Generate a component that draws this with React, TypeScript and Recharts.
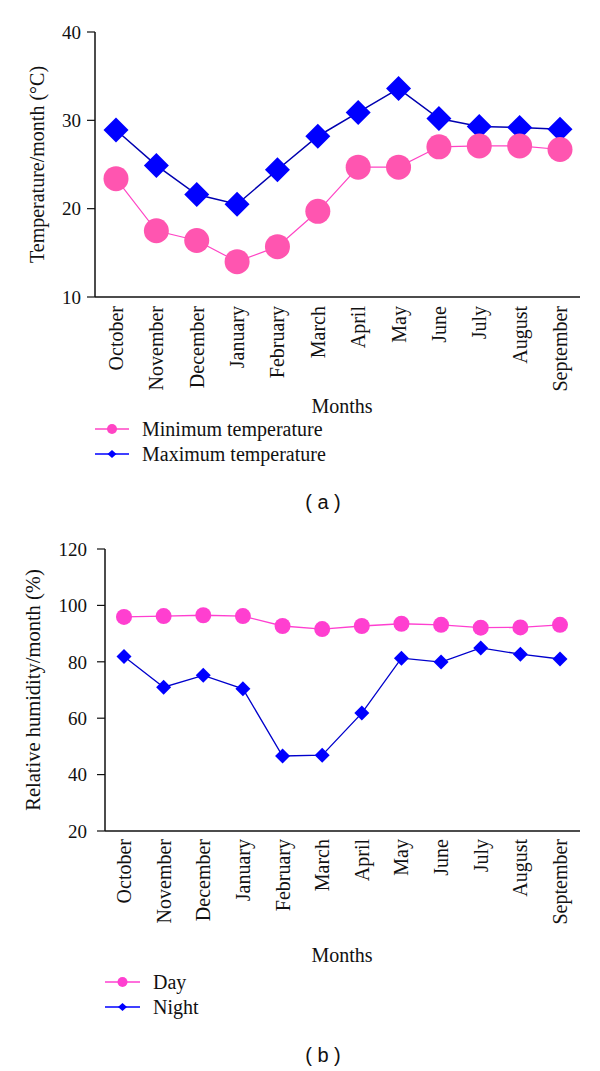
import React from 'react';
import { LineChart, Line, XAxis, YAxis } from 'recharts';

const months = ['October', 'November', 'December', 'January', 'February', 'March', 'April', 'May', 'June', 'July', 'August', 'September'];
const minTemp = [23.4, 17.5, 16.4, 14.0, 15.7, 19.7, 24.7, 24.7, 27.0, 27.1, 27.1, 26.7];
const maxTemp = [28.9, 24.9, 21.6, 20.5, 24.4, 28.2, 30.9, 33.6, 30.2, 29.3, 29.2, 29.0];
const humDay = [95.9, 96.2, 96.5, 96.2, 92.7, 91.6, 92.7, 93.5, 93.1, 92.1, 92.2, 93.1];
const humNight = [81.9, 71.0, 75.2, 70.4, 46.6, 46.9, 61.8, 81.3, 79.9, 84.9, 82.7, 81.0];
const tempTicks = [10, 20, 30, 40];
const humTicks = [20, 40, 60, 80, 100, 120];

const tempData = months.map((m, i) => ({ month: m, min: minTemp[i], max: maxTemp[i] }));
const humData = months.map((m, i) => ({ month: m, day: humDay[i], night: humNight[i] }));

const SERIF = '"Liberation Serif", "Times New Roman", serif';
const SANS = '"Liberation Sans", Arial, sans-serif';
const PINK_A = '#ff55b0';
const PINK_B = '#ff3fd0';
const BLUE = '#0000ff';

const MonthTick = (props: any) => {
  const { x, y, payload } = props;
  return (
    <text
      x={x}
      y={y}
      transform={`rotate(-90, ${x}, ${y})`}
      textAnchor="end"
      dominantBaseline="central"
      fontFamily={SERIF}
      fontSize={20}
      fill="#111"
    >
      {payload.value}
    </text>
  );
};

const circleDot = (r: number, color: string) => (props: any) => {
  const { cx, cy, index } = props;
  if (cx == null || cy == null) return <g key={index} />;
  return <circle key={index} cx={cx} cy={cy} r={r} fill={color} stroke="none" />;
};

const diamondDot = (h: number, color: string) => (props: any) => {
  const { cx, cy, index } = props;
  if (cx == null || cy == null) return <g key={index} />;
  return (
    <path
      key={index}
      d={`M${cx},${cy - h}L${cx + h},${cy}L${cx},${cy + h}L${cx - h},${cy}Z`}
      fill={color}
      stroke="none"
    />
  );
};

const yLabel = (text: string, dx: number, size: number) => (props: any) => {
  const { viewBox } = props;
  const x = viewBox.x + dx;
  const y = viewBox.y + viewBox.height / 2;
  return (
    <text
      x={x}
      y={y}
      transform={`rotate(-90, ${x}, ${y})`}
      textAnchor="middle"
      dominantBaseline="central"
      fontFamily={SERIF}
      fontSize={size}
      fill="#111"
    >
      {text}
    </text>
  );
};

const LegendRow = ({ top, left, lineW, color, marker, label }: any) => (
  <div style={{ position: 'absolute', top: top - 12, left, height: 24, display: 'flex', alignItems: 'center' }}>
    <svg width={lineW} height={24} style={{ display: 'block' }}>
      <line x1={0} y1={12} x2={lineW} y2={12} stroke={color} strokeWidth={1.5} />
      {marker === 'circle' ? (
        <circle cx={lineW / 2} cy={12} r={5} fill={color} />
      ) : (
        <path d={`M${lineW / 2},8L${lineW / 2 + 4.5},12L${lineW / 2},16L${lineW / 2 - 4.5},12Z`} fill={color} />
      )}
    </svg>
    <span style={{ marginLeft: 13, fontFamily: SERIF, fontSize: 20, color: '#111', whiteSpace: 'nowrap' }}>{label}</span>
  </div>
);

const centerText = (text: string, x: number, y: number, font: string, size: number) => (
  <div
    style={{
      position: 'absolute',
      left: x - 100,
      top: y - 14,
      width: 200,
      height: 28,
      lineHeight: '28px',
      textAlign: 'center',
      fontFamily: font,
      fontSize: size,
      color: '#111',
      whiteSpace: 'pre',
    }}
  >
    {text}
  </div>
);

export default function App() {
  return (
    <div style={{ position: 'absolute', left: 0, top: 0, width: 600, height: 1071, background: '#fff', overflow: 'hidden' }}>
      <div style={{ position: 'absolute', left: 0, top: 0 }}>
        <LineChart width={600} height={395} data={tempData} margin={{ top: 32, right: 20, left: 30, bottom: 0 }}>
          <XAxis
            dataKey="month"
            interval={0}
            height={98}
            tick={<MonthTick />}
            tickLine={false}
            tickSize={0}
            tickMargin={9}
            axisLine={{ stroke: '#111', strokeWidth: 1.5 }}
            padding={{ left: 21, right: 20 }}
          />
          <YAxis
            width={65}
            domain={[10, 40]}
            ticks={tempTicks}
            interval={0}
            tickSize={8}
            tickMargin={6}
            tick={{ fontFamily: SERIF, fontSize: 19, fill: '#111' }}
            tickLine={{ stroke: '#111', strokeWidth: 1.2 }}
            axisLine={{ stroke: '#111', strokeWidth: 1.5 }}
            label={yLabel('Temperature/month (°C)', 7, 20)}
          />
          <Line
            dataKey="max"
            stroke="#0000b0"
            strokeWidth={1.5}
            dot={diamondDot(12.5, BLUE)}
            activeDot={false}
            isAnimationActive={false}
          />
          <Line
            dataKey="min"
            stroke="#ff44c4"
            strokeWidth={1.2}
            dot={circleDot(12.5, PINK_A)}
            activeDot={false}
            isAnimationActive={false}
          />
        </LineChart>
      </div>
      {centerText('Months', 342, 406, SERIF, 20)}
      <LegendRow top={429} left={95} lineW={34} color="#ff44c4" marker="circle" label="Minimum temperature" />
      <LegendRow top={454} left={95} lineW={34} color={BLUE} marker="diamond" label="Maximum temperature" />
      {centerText('( a )', 323, 502, SANS, 20)}

      <div style={{ position: 'absolute', left: 0, top: 520 }}>
        <LineChart width={600} height={410} data={humData} margin={{ top: 29, right: 20, left: 30, bottom: 0 }}>
          <XAxis
            dataKey="month"
            interval={0}
            height={99}
            tick={<MonthTick />}
            tickLine={false}
            tickSize={0}
            tickMargin={8}
            axisLine={{ stroke: '#111', strokeWidth: 1.5 }}
            padding={{ left: 19, right: 20 }}
          />
          <YAxis
            width={75}
            domain={[20, 120]}
            ticks={humTicks}
            interval={0}
            tickSize={8}
            tickMargin={10}
            tick={{ fontFamily: SERIF, fontSize: 19, fill: '#111' }}
            tickLine={{ stroke: '#111', strokeWidth: 1.2 }}
            axisLine={{ stroke: '#111', strokeWidth: 1.5 }}
            label={yLabel('Relative humidity/month (%)', 3, 20.5)}
          />
          <Line
            dataKey="night"
            stroke="#0000cc"
            strokeWidth={1.3}
            dot={diamondDot(7.5, BLUE)}
            activeDot={false}
            isAnimationActive={false}
          />
          <Line
            dataKey="day"
            stroke={PINK_B}
            strokeWidth={1.3}
            dot={circleDot(8, PINK_B)}
            activeDot={false}
            isAnimationActive={false}
          />
        </LineChart>
      </div>
      {centerText('Months', 342, 955, SERIF, 20)}
      <LegendRow top={982} left={105} lineW={35} color={PINK_B} marker="circle" label="Day" />
      <LegendRow top={1007} left={105} lineW={35} color={BLUE} marker="diamond" label="Night" />
      {centerText('( b )', 323, 1055, SANS, 20)}
    </div>
  );
}
